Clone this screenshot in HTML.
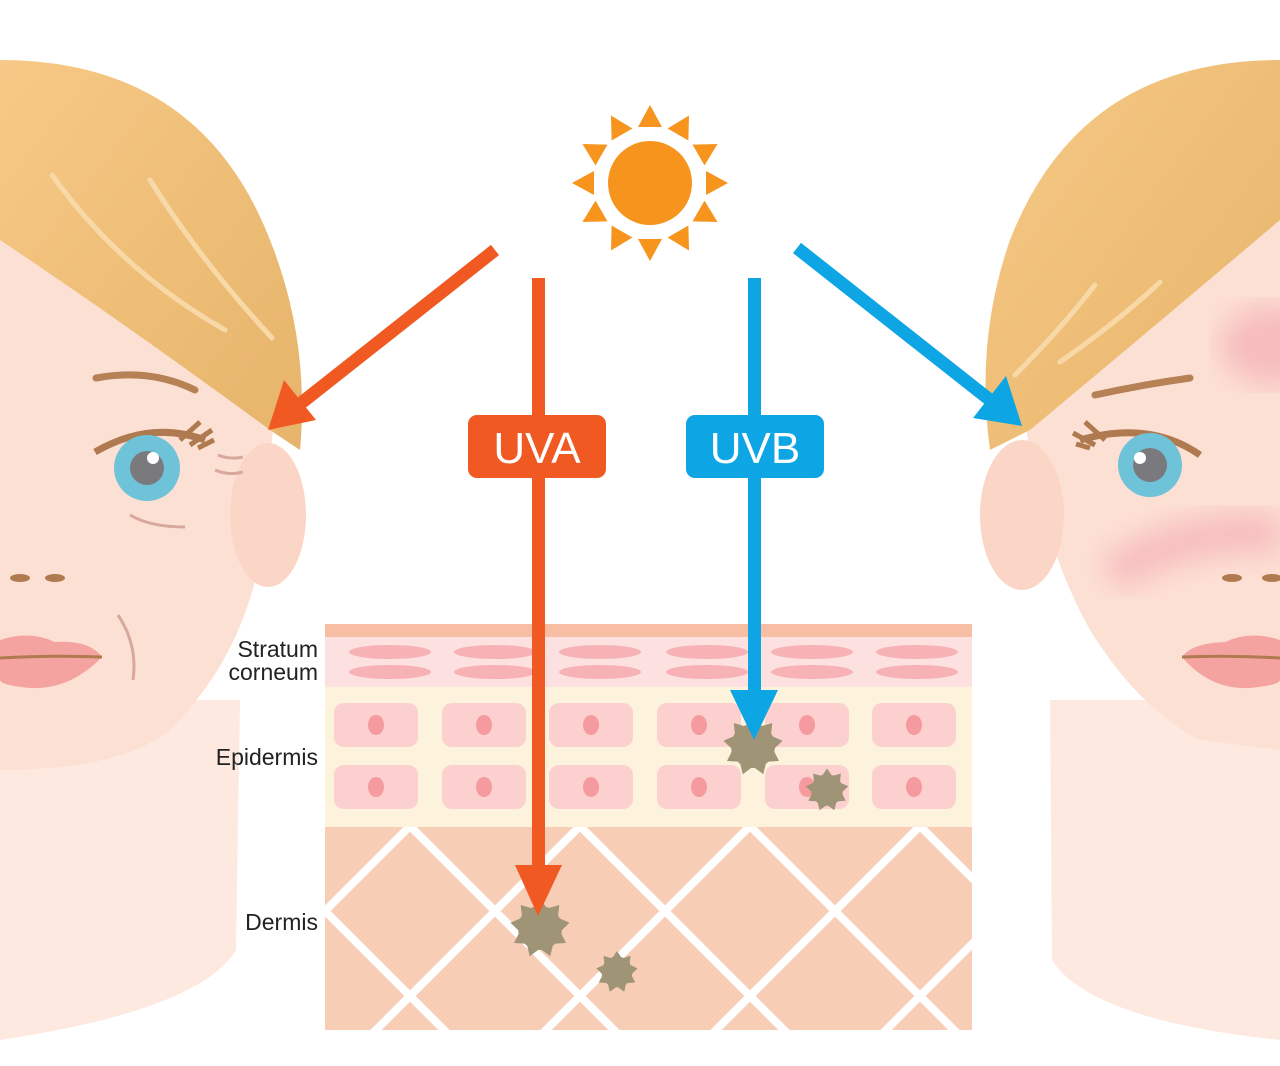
<!DOCTYPE html>
<html><head><meta charset="utf-8"><style>
html,body{margin:0;padding:0;background:#fff;}
svg{display:block;}
text{font-family:"Liberation Sans",sans-serif;}
</style></head><body>
<svg width="1280" height="1066" viewBox="0 0 1280 1066" xmlns="http://www.w3.org/2000/svg">
<defs>
<clipPath id="dc"><rect x="325" y="827" width="647" height="203"/></clipPath>
<linearGradient id="hairL" x1="0" y1="0" x2="1" y2="1"><stop offset="0" stop-color="#f7c986"/><stop offset="1" stop-color="#e6b46a"/></linearGradient>
<filter id="bl"><feGaussianBlur stdDeviation="14"/></filter>
</defs>

<!-- LEFT FACE -->
<path d="M0,700 L240,700 L236,950 Q200,1010 0,1040 Z" fill="#fde9df"/>
<path d="M0,200 L275,410 L260,560 Q240,660 170,730 Q120,770 0,770 Z" fill="#fde0d4"/>
<ellipse cx="268" cy="515" rx="38" ry="72" fill="#fbd6c6"/>
<path d="M0,60 Q200,60 270,240 Q310,340 300,450 L270,430 Q120,320 0,240 Z" fill="url(#hairL)"/>
<path d="M52,175 Q120,270 225,330" stroke="#f9d8a8" stroke-width="5" fill="none" stroke-linecap="round"/>
<path d="M150,180 Q200,260 272,338" stroke="#f9d8a8" stroke-width="5" fill="none" stroke-linecap="round"/>
<path d="M96,378 Q150,368 195,390" stroke="#b68155" stroke-width="7" fill="none" stroke-linecap="round"/>
<path d="M95,452 Q150,420 205,440" stroke="#b07a50" stroke-width="7" fill="none"/>
<path d="M180,440 l20,-18 M190,445 l22,-15 M198,448 l16,-8" stroke="#b07a50" stroke-width="5"/>
<circle cx="147" cy="468" r="33" fill="#6ec3d9"/>
<circle cx="147" cy="468" r="17" fill="#7a7a7e"/>
<circle cx="153" cy="458" r="6" fill="#fff"/>
<path d="M218,455 q12,5 25,2 M215,470 q14,6 28,2 M130,515 q20,12 55,12" stroke="#d8a89c" stroke-width="3" fill="none"/>
<ellipse cx="20" cy="578" rx="10" ry="4" fill="#b07a50"/><ellipse cx="55" cy="578" rx="10" ry="4" fill="#b07a50"/>
<path d="M0,640 Q30,630 55,642 Q90,640 102,657 Q70,690 30,688 Q0,685 0,680 Z" fill="#f5a3a0"/>
<path d="M0,658 Q50,655 102,657" stroke="#b07a50" stroke-width="3" fill="none"/>
<path d="M118,615 q20,30 15,65" stroke="#d8a89c" stroke-width="3" fill="none"/>

<!-- RIGHT FACE -->
<path d="M1280,700 L1050,700 L1052,960 Q1090,1020 1280,1040 Z" fill="#fde9df"/>
<path d="M1280,200 L1025,420 Q1040,540 1090,630 Q1140,710 1200,740 L1280,750 Z" fill="#fde0d4"/>
<ellipse cx="1022" cy="515" rx="42" ry="75" fill="#fbd6c6"/>
<ellipse cx="1275" cy="345" rx="55" ry="40" fill="#f2a5b0" opacity=".6" filter="url(#bl)"/>
<path d="M1100,560 Q1180,505 1280,515 L1280,555 Q1200,545 1120,590 Z" fill="#f2a5b0" opacity=".6" filter="url(#bl)"/>
<path d="M1280,60 Q1080,60 1010,240 Q975,340 990,450 L1030,430 Q1150,330 1280,220 Z" fill="url(#hairL)"/>
<path d="M1015,375 Q1060,330 1095,285" stroke="#f9d8a8" stroke-width="5" fill="none" stroke-linecap="round"/>
<path d="M1060,362 Q1120,320 1160,282" stroke="#f9d8a8" stroke-width="5" fill="none" stroke-linecap="round"/>
<path d="M1095,395 Q1140,385 1190,378" stroke="#b68155" stroke-width="7" fill="none" stroke-linecap="round"/>
<path d="M1080,440 Q1150,420 1200,455" stroke="#b07a50" stroke-width="7" fill="none"/>
<path d="M1105,440 l-20,-18 M1095,445 l-22,-12 M1090,448 l-14,-4" stroke="#b07a50" stroke-width="5"/>
<circle cx="1150" cy="465" r="32" fill="#6ec3d9"/>
<circle cx="1150" cy="465" r="17" fill="#7a7a7e"/>
<circle cx="1140" cy="458" r="6" fill="#fff"/>
<ellipse cx="1232" cy="578" rx="10" ry="4" fill="#b07a50"/><ellipse cx="1272" cy="578" rx="10" ry="4" fill="#b07a50"/>
<path d="M1280,640 Q1250,630 1225,642 Q1192,643 1182,657 Q1210,690 1250,688 Q1280,685 1280,680 Z" fill="#f5a3a0"/>
<path d="M1182,657 Q1230,655 1280,658" stroke="#b07a50" stroke-width="3" fill="none"/>

<!-- SUN -->
<g fill="#f7941d" transform="translate(650,183)">
<circle r="42"/>
<g id="ray"><polygon points="-12,-56 12,-56 0,-78"/></g>
<use href="#ray" transform="rotate(30)"/><use href="#ray" transform="rotate(60)"/><use href="#ray" transform="rotate(90)"/>
<use href="#ray" transform="rotate(120)"/><use href="#ray" transform="rotate(150)"/><use href="#ray" transform="rotate(180)"/>
<use href="#ray" transform="rotate(210)"/><use href="#ray" transform="rotate(240)"/><use href="#ray" transform="rotate(270)"/>
<use href="#ray" transform="rotate(300)"/><use href="#ray" transform="rotate(330)"/>
</g>

<!-- SKIN BLOCK -->
<rect x="325" y="624" width="647" height="13" fill="#f8bea3"/>
<rect x="325" y="637" width="647" height="50" fill="#fde0e0"/>
<g fill="#f7b2b5">
<ellipse cx="390" cy="652" rx="41" ry="7"/><ellipse cx="495" cy="652" rx="41" ry="7"/><ellipse cx="600" cy="652" rx="41" ry="7"/><ellipse cx="707" cy="652" rx="41" ry="7"/><ellipse cx="812" cy="652" rx="41" ry="7"/><ellipse cx="917" cy="652" rx="41" ry="7"/>
<ellipse cx="390" cy="672" rx="41" ry="7"/><ellipse cx="495" cy="672" rx="41" ry="7"/><ellipse cx="600" cy="672" rx="41" ry="7"/><ellipse cx="707" cy="672" rx="41" ry="7"/><ellipse cx="812" cy="672" rx="41" ry="7"/><ellipse cx="917" cy="672" rx="41" ry="7"/>
</g>
<rect x="325" y="687" width="647" height="140" fill="#fdf2dc"/>
<g fill="#fbd0cf">
<rect x="334" y="703" width="84" height="44" rx="10"/><rect x="442" y="703" width="84" height="44" rx="10"/><rect x="549" y="703" width="84" height="44" rx="10"/><rect x="657" y="703" width="84" height="44" rx="10"/><rect x="765" y="703" width="84" height="44" rx="10"/><rect x="872" y="703" width="84" height="44" rx="10"/>
<rect x="334" y="765" width="84" height="44" rx="10"/><rect x="442" y="765" width="84" height="44" rx="10"/><rect x="549" y="765" width="84" height="44" rx="10"/><rect x="657" y="765" width="84" height="44" rx="10"/><rect x="765" y="765" width="84" height="44" rx="10"/><rect x="872" y="765" width="84" height="44" rx="10"/>
</g>
<g fill="#f59a9e">
<ellipse cx="376" cy="725" rx="8" ry="10"/><ellipse cx="484" cy="725" rx="8" ry="10"/><ellipse cx="591" cy="725" rx="8" ry="10"/><ellipse cx="699" cy="725" rx="8" ry="10"/><ellipse cx="807" cy="725" rx="8" ry="10"/><ellipse cx="914" cy="725" rx="8" ry="10"/>
<ellipse cx="376" cy="787" rx="8" ry="10"/><ellipse cx="484" cy="787" rx="8" ry="10"/><ellipse cx="591" cy="787" rx="8" ry="10"/><ellipse cx="699" cy="787" rx="8" ry="10"/><ellipse cx="807" cy="787" rx="8" ry="10"/><ellipse cx="914" cy="787" rx="8" ry="10"/>
</g>
<rect x="325" y="827" width="647" height="203" fill="#f8cdb6"/>
<g clip-path="url(#dc)" stroke="#fff" stroke-width="8">
<path d="M-100,826 l210,210 M70,826 l210,210 M240,826 l210,210 M410,826 l210,210 M580,826 l210,210 M750,826 l210,210 M920,826 l210,210 M155,826 l-100,0"/>
<path d="M410,826 l-210,210 M580,826 l-210,210 M750,826 l-210,210 M920,826 l-210,210 M1090,826 l-210,210 M1260,826 l-210,210 M1430,826 l-210,210"/>
</g>

<!-- particles -->
<g fill="#a09477">
<g transform="translate(540,928)"><circle r="22"/><g id="sp"><polygon points="-8,-18 8,-18 0,-30"/></g><use href="#sp" transform="rotate(40)"/><use href="#sp" transform="rotate(80)"/><use href="#sp" transform="rotate(120)"/><use href="#sp" transform="rotate(160)"/><use href="#sp" transform="rotate(200)"/><use href="#sp" transform="rotate(240)"/><use href="#sp" transform="rotate(280)"/><use href="#sp" transform="rotate(320)"/></g>
<g transform="translate(617,972) scale(.7)"><circle r="22"/><use href="#sp"/><use href="#sp" transform="rotate(40)"/><use href="#sp" transform="rotate(80)"/><use href="#sp" transform="rotate(120)"/><use href="#sp" transform="rotate(160)"/><use href="#sp" transform="rotate(200)"/><use href="#sp" transform="rotate(240)"/><use href="#sp" transform="rotate(280)"/><use href="#sp" transform="rotate(320)"/></g>
<g transform="translate(753,746)"><circle r="22"/><use href="#sp"/><use href="#sp" transform="rotate(40)"/><use href="#sp" transform="rotate(80)"/><use href="#sp" transform="rotate(120)"/><use href="#sp" transform="rotate(160)"/><use href="#sp" transform="rotate(200)"/><use href="#sp" transform="rotate(240)"/><use href="#sp" transform="rotate(280)"/><use href="#sp" transform="rotate(320)"/></g>
<g transform="translate(827,790) scale(.72)"><circle r="22"/><use href="#sp"/><use href="#sp" transform="rotate(40)"/><use href="#sp" transform="rotate(80)"/><use href="#sp" transform="rotate(120)"/><use href="#sp" transform="rotate(160)"/><use href="#sp" transform="rotate(200)"/><use href="#sp" transform="rotate(240)"/><use href="#sp" transform="rotate(280)"/><use href="#sp" transform="rotate(320)"/></g>
</g>

<!-- ARROWS -->
<rect x="532" y="278" width="13" height="600" fill="#f05a22"/>
<polygon points="515,865 562,865 538,916" fill="#f05a22"/>
<rect x="748" y="278" width="13" height="420" fill="#0ea5e4"/>
<polygon points="730,690 778,690 754,740" fill="#0ea5e4"/>
<line x1="495" y1="250" x2="300" y2="404" stroke="#f05a22" stroke-width="13"/>
<polygon points="268,430 284,380 316,420" fill="#f05a22"/>
<line x1="797" y1="248" x2="990" y2="400" stroke="#0ea5e4" stroke-width="13"/>
<polygon points="1022,426 973,418 1006,376" fill="#0ea5e4"/>

<rect x="468" y="415" width="138" height="63" rx="9" fill="#f05a22"/>
<text x="537" y="463" font-size="44" fill="#fff" text-anchor="middle">UVA</text>
<rect x="686" y="415" width="138" height="63" rx="9" fill="#0ea5e4"/>
<text x="755" y="463" font-size="44" fill="#fff" text-anchor="middle">UVB</text>

<g font-size="23" fill="#222" text-anchor="end">
<text x="318" y="657">Stratum</text>
<text x="318" y="680">corneum</text>
<text x="318" y="765">Epidermis</text>
<text x="318" y="930">Dermis</text>
</g>
</svg>
</body></html>
